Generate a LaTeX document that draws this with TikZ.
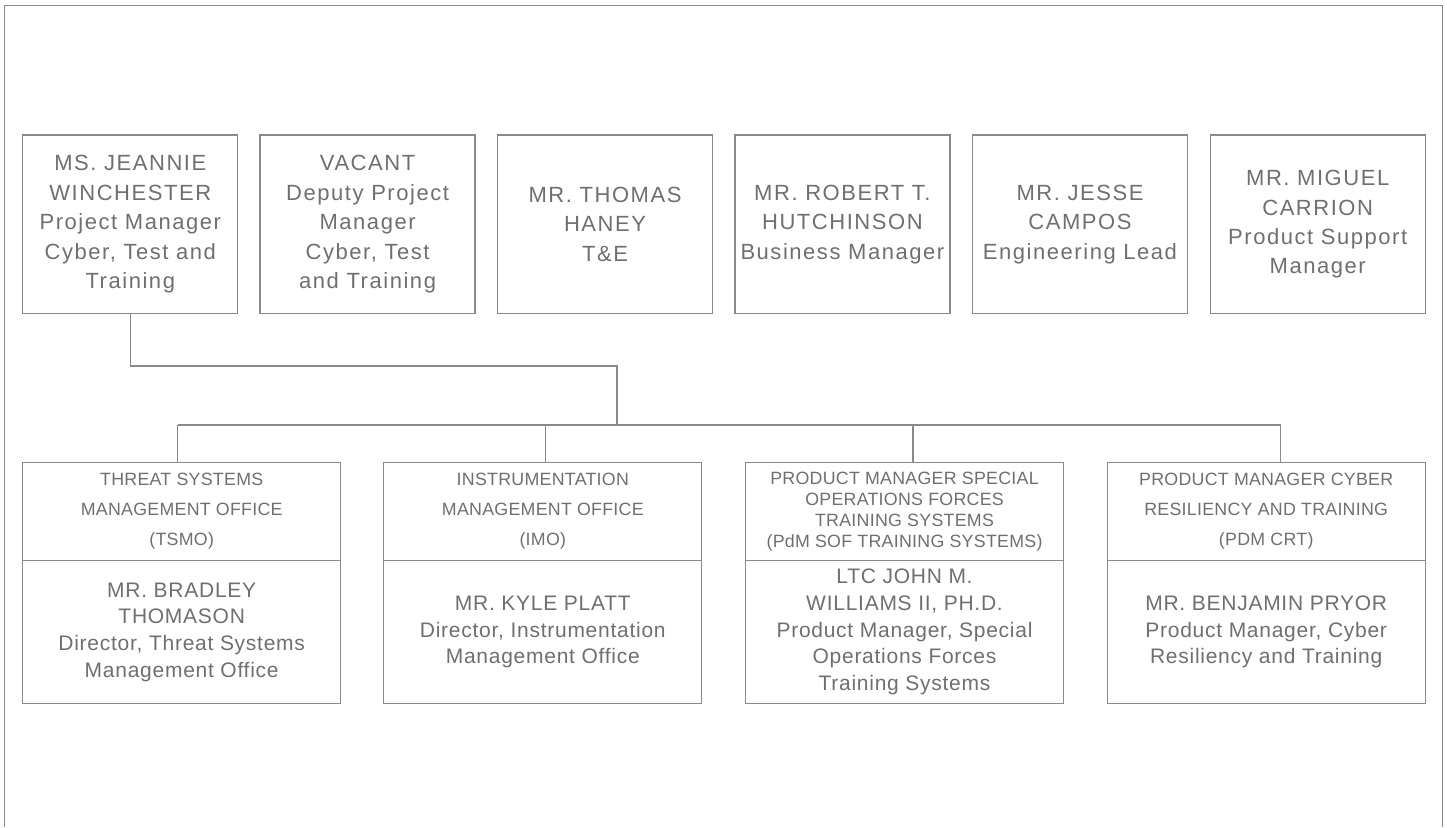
\documentclass[tikz,border=0pt]{standalone}
\usepackage{fontspec}
\setmainfont{Liberation Sans}
\newfontfamily\topf[LetterSpace=7]{Liberation Sans}
\newfontfamily\headf[LetterSpace=1.5]{Liberation Sans}
\newfontfamily\namef[LetterSpace=3.5]{Liberation Sans}
\definecolor{txt}{RGB}{110,111,115}
\definecolor{ln}{RGB}{138,138,140}
\begin{document}
\begin{tikzpicture}[x=1pt,y=-1pt,
  every node/.style={inner sep=0pt,outer sep=0pt,text=txt,align=center},
  topbox/.style={draw=ln,line width=1.3pt,minimum width=215pt,minimum height=178.5pt,font=\topf\fontsize{22}{29.4}\selectfont},
  headbox/.style={draw=ln,line width=1.3pt,minimum width=318pt,minimum height=98.4pt,font=\headf\fontsize{17.8}{30}\selectfont},
  bodybox/.style={draw=ln,line width=1.3pt,minimum width=318pt,minimum height=142.6pt,font=\namef\fontsize{21}{26.7}\selectfont},
  conn/.style={draw=ln,line width=1.3pt}]
\useasboundingbox (0,0) rectangle (1447,827);
% outer frame (open at the bottom)
\draw[conn] (4.3,827) -- (4.3,5.3) -- (1442.7,5.3) -- (1442.7,827);
% top row
\node[topbox] (t1) at (130.3,224.3) {MS. JEANNIE\\WINCHESTER\\Project Manager\\Cyber, Test and\\Training};
\node[topbox] (t2) at (367.6,224.3) {VACANT\\Deputy Project\\Manager\\Cyber, Test\\and Training};
\node[topbox] (t3) at (605,224.3) {MR. THOMAS\\HANEY\\T\&E};
\node[topbox] (t4) at (842.4,224.3) {MR. ROBERT T.\\HUTCHINSON\\Business Manager};
\node[topbox] (t5) at (1080,224.3) {MR. JESSE\\CAMPOS\\Engineering Lead};
\node[topbox] (t6) at (1317.7,224.3) {MR. MIGUEL\\CARRION\\Product Support\\Manager};
% bottom row headers
\node[headbox] (h1) at (181.7,511.5) {THREAT SYSTEMS\\MANAGEMENT OFFICE\\(TSMO)};
\node[headbox] (h2) at (542.8,511.5) {INSTRUMENTATION\\MANAGEMENT OFFICE\\(IMO)};
\node[headbox,font=\headf\fontsize{17.8}{21}\selectfont] (h3) at (904.5,511.5) {PRODUCT MANAGER SPECIAL\\OPERATIONS FORCES\\TRAINING SYSTEMS\\(PdM SOF TRAINING SYSTEMS)};
\node[headbox] (h4) at (1266.2,511.5) {PRODUCT MANAGER CYBER\\RESILIENCY AND TRAINING\\(PDM CRT)};
% bottom row bodies
\node[bodybox,anchor=north] (b1) at (h1.south) {MR. BRADLEY\\THOMASON\\Director, Threat Systems\\Management Office};
\node[bodybox,anchor=north] (b2) at (h2.south) {MR. KYLE PLATT\\Director, Instrumentation\\Management Office};
\node[bodybox,anchor=north] (b3) at (h3.south) {LTC JOHN M.\\WILLIAMS II, PH.D.\\Product Manager, Special\\Operations Forces\\Training Systems};
\node[bodybox,anchor=north] (b4) at (h4.south) {MR. BENJAMIN PRYOR\\Product Manager, Cyber\\Resiliency and Training};
% connectors
\coordinate (mid) at (617,366);
\coordinate (jn) at (617,425);
\coordinate (d1) at (177.7,425);
\coordinate (d2) at (545.7,425);
\coordinate (d3) at (913,425);
\coordinate (d4) at (1280.7,425);
\draw[conn] (t1.south) |- (mid) -- (jn);
\draw[conn] (d1) -- (d4);
\draw[conn] (d1) -- (d1 |- h1.north);
\draw[conn] (d2) -- (d2 |- h2.north);
\draw[conn] (d3) -- (d3 |- h3.north);
\draw[conn] (d4) -- (d4 |- h4.north);
\end{tikzpicture}
\end{document}
